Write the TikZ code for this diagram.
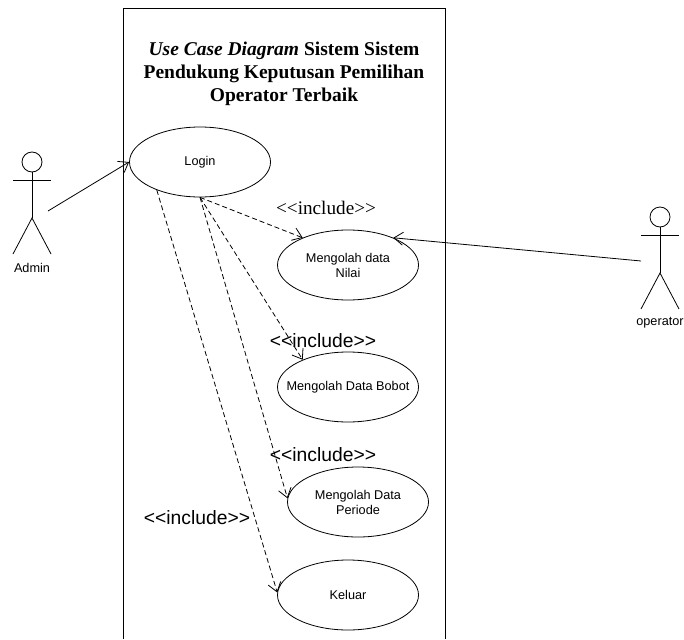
\documentclass[tikz,border=0pt]{standalone}
\usepackage{fontspec}
\setmainfont{Liberation Serif}
\setsansfont{Liberation Sans}
\usetikzlibrary{shapes.geometric,arrows.meta}
\newcommand{\incl}{{<}{<}include{>}{>}}
\begin{document}
\begin{tikzpicture}[x=1pt,y=-1pt,line width=0.8pt,
        usecase/.style={draw,ellipse,minimum width=141pt,minimum height=70pt,inner sep=0pt,align=center,font=\sffamily\fontsize{12.7}{15}\selectfont},
        link/.style={-{Straight Barb[length=9pt,width=13pt]}},
        incl/.style={link,dash pattern=on 5pt off 3pt},
        incltext/.style={inner sep=0pt,font=\sffamily\fontsize{19.3}{23}\selectfont}]
    \useasboundingbox (0,0) rectangle (684,639);
    % system boundary, open at the bottom
    \draw (123,639) -- (123,8) -- (445,8) -- (445,639);
    \node[align=center,anchor=north,inner sep=0pt,font=\bfseries\fontsize{19.5}{23}\selectfont] (title) at (284,42)
        {\textit{Use Case Diagram} Sistem Sistem\\Pendukung Keputusan Pemilihan\\Operator Terbaik};
    % actors
    \foreach \x/\y/\name/\lbl in {32/162/admin/Admin,660/217/operator/operator}{
        \draw (\x,\y) circle (10pt);
        \draw (\x-19,\y+18) -- (\x+19,\y+18);
        \draw (\x,\y+10) -- (\x,\y+56);
        \draw (\x-19,\y+92) -- (\x,\y+56) -- (\x+19,\y+92);
        \node[inner sep=0pt,font=\sffamily\fontsize{12.7}{15}\selectfont] (\name) at (\x,\y+106) {\lbl};
    }
    \coordinate (adminhand) at (48,211);
    \coordinate (operatorhand) at (641,261);
    % use cases
    \node[usecase] (login) at (200,162) {Login};
    \node[usecase] (nilai) at (348,265) {Mengolah data\\Nilai};
    \node[usecase,inner xsep=-12pt] (bobot) at (348,387) {Mengolah Data Bobot};
    \node[usecase] (periode) at (358,502) {Mengolah Data\\Periode};
    \node[usecase] (keluar) at (348,595) {Keluar};
    % associations
    \draw[link] (adminhand) -- (login.west);
    \draw[link] (operatorhand) -- (nilai.31);
    \draw[incl] (login.south) -- (nilai.149);
    \draw[incl] (login.south) -- (bobot.149);
    \draw[incl] (login.south) -- (periode.177);
    \draw[incl] (login.213) -- (keluar.178);
    \node[inner sep=0pt,font=\fontsize{19.2}{23}\selectfont] (inclnilai) at (326,208) {\incl};
    \node[incltext] (inclbobot) at (323,341) {\incl};
    \node[incltext] (inclperiode) at (323,455) {\incl};
    \node[incltext] (inclkeluar) at (197,518) {\incl};
\end{tikzpicture}
\end{document}
